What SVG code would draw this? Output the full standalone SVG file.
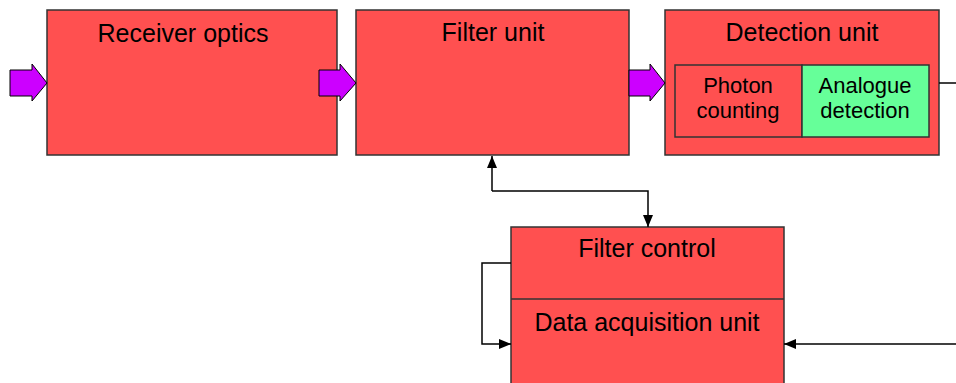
<svg xmlns="http://www.w3.org/2000/svg" width="956" height="383" viewBox="0 0 956 383">
<style>
.box{fill:#FF5050;stroke:#333;stroke-width:1.5}
.grn{fill:#66FF99;stroke:#333;stroke-width:1.5}
.big{font-family:"Liberation Sans",Arial,sans-serif;font-size:25px;fill:#000;text-anchor:middle}
.sm{font-family:"Liberation Sans",Arial,sans-serif;font-size:22px;fill:#000;text-anchor:middle}
.pa{fill:#CC00FF;stroke:#000;stroke-width:1}
.ln{fill:none;stroke:#000;stroke-width:1.5}
</style>
<defs>
<marker id="ah2" viewBox="0 0 12 10" refX="12" refY="5" markerWidth="12" markerHeight="10" orient="auto" markerUnits="userSpaceOnUse">
<path d="M0,0 L12,5 L0,10 z" fill="#000"/>
</marker>
</defs>
<g id="receiver-optics">
<rect class="box" x="47" y="10" width="290" height="145"/>
<text class="big" x="183" y="42">Receiver optics</text>
</g>
<g id="filter-unit">
<rect class="box" x="356" y="10" width="273" height="145"/>
<text class="big" x="493" y="41">Filter unit</text>
</g>
<g id="detection-unit">
<rect class="box" x="665" y="10" width="274" height="145"/>
<text class="big" x="802" y="41">Detection unit</text>
<rect class="box" x="675" y="65" width="127" height="72"/>
<rect class="grn" x="802" y="65" width="127" height="72"/>
<text class="sm" x="738" y="93">Photon</text>
<text class="sm" x="738" y="118">counting</text>
<text class="sm" x="865" y="93">Analogue</text>
<text class="sm" x="865" y="118">detection</text>
</g>
<g id="filter-control-daq">
<rect class="box" x="511" y="227" width="273" height="160"/>
<line x1="511" y1="299" x2="784" y2="299" stroke="#333" stroke-width="1.5"/>
<text class="big" x="647" y="257">Filter control</text>
<text class="big" x="647" y="331">Data acquisition unit</text>
</g>
<g id="connectors">
<path class="pa" d="M10,70 L32,70 L32,64 L47,83 L32,101 L32,96 L10,96 z"/>
<path class="pa" d="M319,70 L340,70 L340,64 L356,83 L340,101 L340,96 L319,96 z"/>
<path class="pa" d="M629,70 L650,70 L650,64 L665,83 L650,101 L650,96 L629,96 z"/>
<line class="ln" x1="939" y1="83" x2="956" y2="83"/>
<path class="ln" d="M492,191 L492,156" marker-end="url(#ah2)"/>
<path class="ln" d="M492,191 L648,191 L648,227" marker-end="url(#ah2)"/>
<path class="ln" d="M511,263 L482,263 L482,344 L511,344" marker-end="url(#ah2)"/>
<path class="ln" d="M956,344 L784,344" marker-end="url(#ah2)"/>
</g>
</svg>
